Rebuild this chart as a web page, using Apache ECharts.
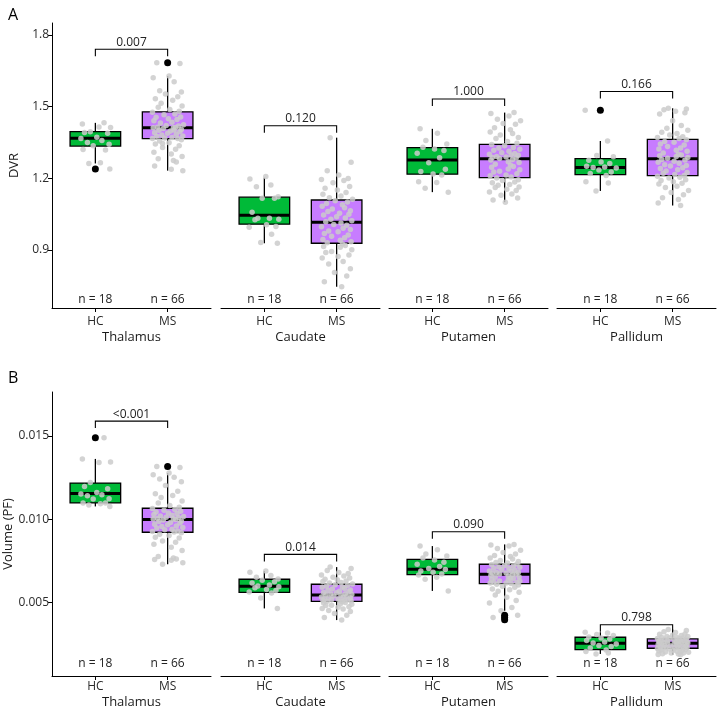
<!DOCTYPE html>
<html>
<head>
<meta charset="utf-8">
<title>DVR and volume, HC vs MS</title>
<script src="https://cdn.jsdelivr.net/npm/echarts@6/dist/echarts.min.js"></script>
<style>
html, body { margin: 0; padding: 0; background: #fff; }
#main { width: 719px; height: 710px; }
</style>
</head>
<body>
<div id="main"></div>
<script>
// regions / groups
var regions = ['Thalamus', 'Caudate', 'Putamen', 'Pallidum'];
var groups = ['HC', 'MS'];
var groupN = [18, 66];

// box stats per region: [lower whisker, Q1, median, Q3, upper whisker]
var dvrBoxHC = [
    [1.262, 1.335, 1.368, 1.395, 1.432],
    [0.928, 1.008, 1.045, 1.121, 1.203],
    [1.142, 1.217, 1.277, 1.328, 1.407],
    [1.147, 1.215, 1.245, 1.282, 1.356]
];
var dvrBoxMS = [
    [1.232, 1.366, 1.411, 1.478, 1.628],
    [0.746, 0.928, 1.016, 1.109, 1.370],
    [1.100, 1.203, 1.282, 1.342, 1.475],
    [1.086, 1.211, 1.282, 1.363, 1.493]
];
var dvrOutHC = [[1.239], [], [], [1.485]];
var dvrOutMS = [[1.684], [], [], []];
var dvrP = ['0.007', '0.120', '1.000', '0.166'];
var dvrBracket = [1.740, 1.420, 1.532, 1.563];

var volBoxHC = [
    [0.01076, 0.01097, 0.01154, 0.01216, 0.01361],
    [0.00464, 0.00560, 0.00597, 0.00639, 0.00689],
    [0.00569, 0.00667, 0.00699, 0.00758, 0.00838],
    [0.00191, 0.00217, 0.00255, 0.00291, 0.00321]
];
var volBoxMS = [
    [0.00729, 0.00921, 0.00997, 0.01065, 0.01276],
    [0.00394, 0.00506, 0.00545, 0.00609, 0.00712],
    [0.00450, 0.00613, 0.00669, 0.00729, 0.00848],
    [0.00186, 0.00225, 0.00255, 0.00281, 0.00337]
];
var volOutHC = [[0.01488], [], [], []];
var volOutMS = [[0.01315], [], [0.00423, 0.00410, 0.00396], []];
var volP = ['<0.001', '0.014', '0.090', '0.798'];
var volBracket = [0.01588, 0.00788, 0.00924, 0.00366];

// individual subjects (grey points)
var dvrPtsHC = [
    [1.432, 1.427, 1.415, 1.413, 1.395, 1.392, 1.388, 1.372, 1.366, 1.358, 1.350, 1.342, 1.336, 1.318, 1.320, 1.265, 1.262, 1.239],
    [1.207, 1.197, 1.172, 1.165, 1.123, 1.116, 1.116, 1.058, 1.033, 1.033, 1.029, 1.026, 1.005, 0.998, 0.995, 0.966, 0.931, 0.928],
    [1.407, 1.389, 1.358, 1.344, 1.330, 1.323, 1.316, 1.305, 1.286, 1.265, 1.238, 1.228, 1.218, 1.214, 1.186, 1.182, 1.158, 1.142],
    [1.485, 1.356, 1.295, 1.290, 1.275, 1.268, 1.262, 1.250, 1.247, 1.245, 1.243, 1.235, 1.226, 1.220, 1.212, 1.185, 1.180, 1.147]
];
var dvrPtsMS = [
    [1.684, 1.680, 1.628, 1.621, 1.604, 1.566, 1.561, 1.553, 1.541, 1.533, 1.527, 1.514, 1.503, 1.497, 1.488, 1.481,
     1.476, 1.469, 1.466, 1.457, 1.455, 1.449, 1.446, 1.441, 1.435, 1.431, 1.424, 1.421, 1.419, 1.414, 1.412, 1.411, 1.413,
     1.408, 1.404, 1.401, 1.398, 1.396, 1.391, 1.389, 1.384, 1.381, 1.377, 1.376, 1.371, 1.369, 1.367, 1.366, 1.402,
     1.361, 1.356, 1.349, 1.343, 1.336, 1.329, 1.321, 1.309, 1.302, 1.291, 1.282, 1.274, 1.268, 1.251, 1.238, 1.232, 1.346],
    [1.370, 1.267, 1.232, 1.214, 1.199, 1.195, 1.191, 1.181, 1.166, 1.158, 1.151, 1.141, 1.133, 1.126, 1.119, 1.112,
     1.106, 1.101, 1.094, 1.089, 1.083, 1.077, 1.071, 1.064, 1.061, 1.054, 1.049, 1.046, 1.039, 1.034, 1.029, 1.022, 1.018,
     1.013, 1.007, 1.003, 0.997, 0.991, 0.986, 0.979, 0.976, 0.969, 0.963, 0.957, 0.951, 0.944, 0.941, 0.934, 0.930,
     0.925, 0.919, 0.914, 0.911, 0.901, 0.894, 0.889, 0.879, 0.873, 0.866, 0.852, 0.841, 0.821, 0.806, 0.791, 0.767, 0.746],
    [1.475, 1.471, 1.461, 1.447, 1.441, 1.429, 1.426, 1.411, 1.403, 1.394, 1.387, 1.381, 1.371, 1.366, 1.354, 1.347,
     1.341, 1.336, 1.329, 1.327, 1.321, 1.317, 1.313, 1.307, 1.304, 1.301, 1.297, 1.296, 1.291, 1.289, 1.287, 1.285, 1.283,
     1.279, 1.277, 1.269, 1.266, 1.259, 1.256, 1.249, 1.246, 1.239, 1.236, 1.229, 1.226, 1.219, 1.214, 1.211, 1.205,
     1.201, 1.194, 1.191, 1.184, 1.181, 1.174, 1.171, 1.164, 1.161, 1.154, 1.149, 1.143, 1.134, 1.129, 1.117, 1.109, 1.100],
    [1.493, 1.490, 1.487, 1.481, 1.474, 1.469, 1.441, 1.421, 1.409, 1.401, 1.393, 1.387, 1.381, 1.374, 1.371, 1.366,
     1.361, 1.354, 1.351, 1.344, 1.339, 1.333, 1.327, 1.323, 1.317, 1.313, 1.306, 1.301, 1.297, 1.294, 1.291, 1.287, 1.284,
     1.279, 1.276, 1.271, 1.267, 1.263, 1.257, 1.254, 1.251, 1.244, 1.241, 1.236, 1.231, 1.224, 1.221, 1.216, 1.212,
     1.208, 1.204, 1.201, 1.194, 1.191, 1.186, 1.179, 1.176, 1.167, 1.161, 1.149, 1.141, 1.131, 1.119, 1.111, 1.097, 1.086]
];
var volPtsHC = [
    [0.01488, 0.01361, 0.01339, 0.01343, 0.01220, 0.01196, 0.01182, 0.01160, 0.01150, 0.01146, 0.01140, 0.01122, 0.01120, 0.01097, 0.01097, 0.01092, 0.01085, 0.01076],
    [0.00689, 0.00681, 0.00662, 0.00651, 0.00641, 0.00633, 0.00624, 0.00616, 0.00604, 0.00599, 0.00594, 0.00588, 0.00577, 0.00571, 0.00562, 0.00556, 0.00527, 0.00464],
    [0.00838, 0.00816, 0.00791, 0.00778, 0.00766, 0.00755, 0.00741, 0.00729, 0.00716, 0.00703, 0.00697, 0.00689, 0.00681, 0.00671, 0.00664, 0.00651, 0.00639, 0.00569],
    [0.00321, 0.00316, 0.00307, 0.00301, 0.00293, 0.00287, 0.00281, 0.00271, 0.00263, 0.00256, 0.00251, 0.00242, 0.00236, 0.00226, 0.00214, 0.00206, 0.00197, 0.00191]
];
var volPtsMS = [
    [0.01315, 0.01309, 0.01276, 0.01266, 0.01251, 0.01241, 0.01224, 0.01201, 0.01167, 0.01152, 0.01141, 0.01129, 0.01109, 0.01096, 0.01081, 0.01071,
     0.01063, 0.01057, 0.01053, 0.01047, 0.01043, 0.01037, 0.01034, 0.01027, 0.01023, 0.01019, 0.01016, 0.01011, 0.01009, 0.01004, 0.01002, 0.01000, 0.00998,
     0.00994, 0.00989, 0.00986, 0.00979, 0.00976, 0.00969, 0.00966, 0.00959, 0.00956, 0.00949, 0.00946, 0.00939, 0.00936, 0.00929, 0.00926, 0.00922,
     0.00918, 0.00909, 0.00901, 0.00891, 0.00886, 0.00869, 0.00861, 0.00849, 0.00831, 0.00811, 0.00776, 0.00767, 0.00761, 0.00757, 0.00753, 0.00738, 0.00729],
    [0.00712, 0.00704, 0.00691, 0.00679, 0.00673, 0.00664, 0.00659, 0.00651, 0.00646, 0.00639, 0.00636, 0.00629, 0.00626, 0.00619, 0.00616, 0.00611,
     0.00606, 0.00601, 0.00599, 0.00593, 0.00591, 0.00584, 0.00581, 0.00575, 0.00573, 0.00567, 0.00566, 0.00559, 0.00558, 0.00552, 0.00551, 0.00548, 0.00546,
     0.00543, 0.00539, 0.00538, 0.00533, 0.00531, 0.00527, 0.00526, 0.00521, 0.00520, 0.00517, 0.00516, 0.00513, 0.00512, 0.00509, 0.00508, 0.00507,
     0.00504, 0.00499, 0.00497, 0.00491, 0.00489, 0.00483, 0.00481, 0.00474, 0.00471, 0.00464, 0.00461, 0.00451, 0.00446, 0.00434, 0.00423, 0.00409, 0.00394],
    [0.00848, 0.00844, 0.00839, 0.00824, 0.00813, 0.00799, 0.00791, 0.00781, 0.00776, 0.00767, 0.00761, 0.00751, 0.00746, 0.00739, 0.00736, 0.00731,
     0.00727, 0.00721, 0.00719, 0.00713, 0.00711, 0.00705, 0.00703, 0.00697, 0.00695, 0.00689, 0.00687, 0.00681, 0.00680, 0.00676, 0.00675, 0.00671, 0.00670,
     0.00667, 0.00661, 0.00659, 0.00653, 0.00651, 0.00645, 0.00643, 0.00637, 0.00635, 0.00629, 0.00628, 0.00623, 0.00621, 0.00617, 0.00616, 0.00614,
     0.00609, 0.00605, 0.00597, 0.00591, 0.00581, 0.00576, 0.00567, 0.00561, 0.00544, 0.00531, 0.00511, 0.00496, 0.00469, 0.00450, 0.00423, 0.00410, 0.00396],
    [0.00337, 0.00331, 0.00324, 0.00319, 0.00311, 0.00309, 0.00303, 0.00301, 0.00296, 0.00295, 0.00290, 0.00289, 0.00286, 0.00285, 0.00283, 0.00282,
     0.00280, 0.00277, 0.00276, 0.00273, 0.00272, 0.00269, 0.00268, 0.00267, 0.00264, 0.00264, 0.00261, 0.00261, 0.00260, 0.00258, 0.00258, 0.00257, 0.00256,
     0.00254, 0.00251, 0.00250, 0.00247, 0.00246, 0.00243, 0.00242, 0.00239, 0.00238, 0.00235, 0.00234, 0.00231, 0.00230, 0.00227, 0.00227, 0.00226,
     0.00224, 0.00221, 0.00220, 0.00217, 0.00216, 0.00213, 0.00212, 0.00209, 0.00207, 0.00203, 0.00201, 0.00197, 0.00196, 0.00192, 0.00190, 0.00188, 0.00186]
];

// horizontal jitter of the grey points (category units)
var jitter = [0.12, -0.18, 0.05, 0.21, -0.07, -0.15, 0.17, 0.02, -0.20, 0.09, -0.11, 0.19, -0.03, 0.14, -0.17, 0.07,
    -0.09, 0.20, -0.13, 0.03, 0.16, -0.21, 0.10, -0.05, 0.18, -0.16, 0.01, 0.13, -0.19, 0.06, -0.10, 0.22, -0.02,
    0.15, -0.14, 0.08, -0.20, 0.11, -0.06, 0.19, -0.12, 0.04, 0.17, -0.18, 0.00, 0.12, -0.08, 0.21, -0.15,
    0.06, -0.04, 0.14, -0.21, 0.09, 0.19, -0.11, 0.02, -0.17, 0.16, -0.07, 0.11, -0.19, 0.05, 0.20, -0.13, 0.08];

var FONT = '"Open Sans", "Noto Sans", sans-serif';
var groupColors = ['#00BA38', '#C77CFF'];
var gridLefts = [52, 221, 389, 557];

var panels = [
    {
        boxHC: dvrBoxHC, boxMS: dvrBoxMS, ptsHC: dvrPtsHC, ptsMS: dvrPtsMS,
        outHC: dvrOutHC, outMS: dvrOutMS, pvals: dvrP, bracket: dvrBracket,
        top: 23, min: 0.657, max: 1.85, ticks: [0.9, 1.2, 1.5, 1.8],
        yName: 'DVR', nameGap: 31, digits: 1, nOffset: 8, labelMargin: 8, titleGap: 23
    },
    {
        boxHC: volBoxHC, boxMS: volBoxMS, ptsHC: volPtsHC, ptsMS: volPtsMS,
        outHC: volOutHC, outMS: volOutMS, pvals: volP, bracket: volBracket,
        top: 392, min: 0.000585, max: 0.017625, ticks: [0.005, 0.010, 0.015],
        yName: 'Volume (PF)', nameGap: 36, digits: 3, nOffset: 12, labelMargin: 5, titleGap: 20
    }
];

function renderBox(params, api) {
    var x = api.value(0);
    var gi = api.value(6);
    var lo = api.coord([x, api.value(1)]);
    var q1 = api.coord([x, api.value(2)]);
    var md = api.coord([x, api.value(3)]);
    var q3 = api.coord([x, api.value(4)]);
    var hi = api.coord([x, api.value(5)]);
    var hw = api.size([0.35, 0])[0];
    return {
        type: 'group',
        children: [
            { type: 'line', shape: { x1: lo[0], y1: lo[1], x2: hi[0], y2: hi[1] }, style: { stroke: '#000', lineWidth: 1.3 } },
            { type: 'rect', shape: { x: q3[0] - hw, y: q3[1], width: hw * 2, height: q1[1] - q3[1] },
              style: { fill: groupColors[gi], stroke: '#000', lineWidth: 1.3 } },
            { type: 'line', shape: { x1: md[0] - hw, y1: md[1], x2: md[0] + hw, y2: md[1] }, style: { stroke: '#000', lineWidth: 3 } }
        ]
    };
}

var grids = [], xAxes = [], yAxes = [], series = [];

panels.forEach(function (p, pi) {
    regions.forEach(function (reg, r) {
        var g = pi * 4 + r;
        grids.push({ left: gridLefts[r], top: p.top, width: 159, height: 285 });
        xAxes.push({
            gridIndex: g, type: 'value', min: 0.4, max: 2.6,
            axisLine: { show: true, onZero: false, lineStyle: { color: '#000', width: 1 } },
            axisTick: { show: true, customValues: [1, 2], length: 4, lineStyle: { color: '#000' } },
            axisLabel: {
                customValues: [1, 2], margin: p.labelMargin, fontSize: 12, color: '#2b2b2b', fontFamily: FONT,
                formatter: function (v) { return groups[Math.round(v) - 1]; }
            },
            splitLine: { show: false },
            name: reg, nameLocation: 'middle', nameGap: p.titleGap,
            nameTextStyle: { fontSize: 13, color: '#1a1a1a', fontFamily: FONT }
        });
        yAxes.push({
            gridIndex: g, type: 'value', min: p.min, max: p.max, show: r === 0,
            axisLine: { show: true, lineStyle: { color: '#000', width: 1 } },
            axisTick: { show: true, customValues: p.ticks, length: 4, lineStyle: { color: '#000' } },
            axisLabel: {
                customValues: p.ticks, margin: 3, fontSize: 12, color: '#2b2b2b', fontFamily: FONT,
                formatter: function (v) { return v.toFixed(p.digits); }
            },
            splitLine: { show: false },
            name: p.yName, nameLocation: 'middle', nameGap: p.nameGap,
            nameTextStyle: { fontSize: 13, color: '#1a1a1a', fontFamily: FONT }
        });

        // boxes
        series.push({
            type: 'custom', xAxisIndex: g, yAxisIndex: g, z: 2, renderItem: renderBox,
            data: [[1].concat(p.boxHC[r], [0]), [2].concat(p.boxMS[r], [1])]
        });

        // grey jittered points
        var pts = [];
        p.ptsHC[r].forEach(function (v, i) { pts.push([1 + jitter[(i + r * 7) % jitter.length], v]); });
        p.ptsMS[r].forEach(function (v, i) { pts.push([2 + jitter[(i + r * 11 + 5) % jitter.length], v]); });
        series.push({
            type: 'scatter', xAxisIndex: g, yAxisIndex: g, z: 3, symbolSize: 5.5,
            itemStyle: { color: '#CBCBCB', opacity: 0.85 }, data: pts
        });

        // outliers
        var outs = [];
        p.outHC[r].forEach(function (v) { outs.push([1, v]); });
        p.outMS[r].forEach(function (v) { outs.push([2, v]); });
        series.push({
            type: 'scatter', xAxisIndex: g, yAxisIndex: g, z: 4, symbolSize: 7,
            itemStyle: { color: '#000', opacity: 1 }, data: outs
        });

        // p-value bracket
        series.push({
            type: 'custom', xAxisIndex: g, yAxisIndex: g, z: 5,
            data: [[p.bracket[r]]],
            renderItem: function (params, api) {
                var a = api.coord([1, api.value(0)]);
                var b = api.coord([2, api.value(0)]);
                return {
                    type: 'group',
                    children: [
                        { type: 'polyline', shape: { points: [[a[0], a[1] + 7], [a[0], a[1]], [b[0], b[1]], [b[0], b[1] + 7]] },
                          style: { stroke: '#000', lineWidth: 1.1, fill: null } },
                        { type: 'text', style: { text: p.pvals[r], x: (a[0] + b[0]) / 2, y: a[1] - 1, align: 'center',
                          verticalAlign: 'bottom', fontSize: 12, fontFamily: FONT, fill: '#222' } }
                    ]
                };
            }
        });

        // n labels
        series.push({
            type: 'custom', xAxisIndex: g, yAxisIndex: g, z: 5,
            data: [[1, groupN[0]], [2, groupN[1]]],
            renderItem: function (params, api) {
                var cs = params.coordSys;
                var pt = api.coord([api.value(0), p.min]);
                return {
                    type: 'text',
                    style: { text: 'n = ' + api.value(1), x: pt[0], y: cs.y + cs.height - p.nOffset, align: 'center',
                             verticalAlign: 'middle', fontSize: 12, fontFamily: FONT, fill: '#222' }
                };
            }
        });
    });
});

var chart = echarts.init(document.getElementById('main'));
chart.setOption({
    animation: false,
    backgroundColor: '#fff',
    title: [
        { text: 'A', left: 3, top: 2, textStyle: { fontSize: 16, fontWeight: 'normal', color: '#000', fontFamily: FONT } },
        { text: 'B', left: 3, top: 365, textStyle: { fontSize: 16, fontWeight: 'normal', color: '#000', fontFamily: FONT } }
    ],
    grid: grids,
    xAxis: xAxes,
    yAxis: yAxes,
    series: series
});
</script>
</body>
</html>
